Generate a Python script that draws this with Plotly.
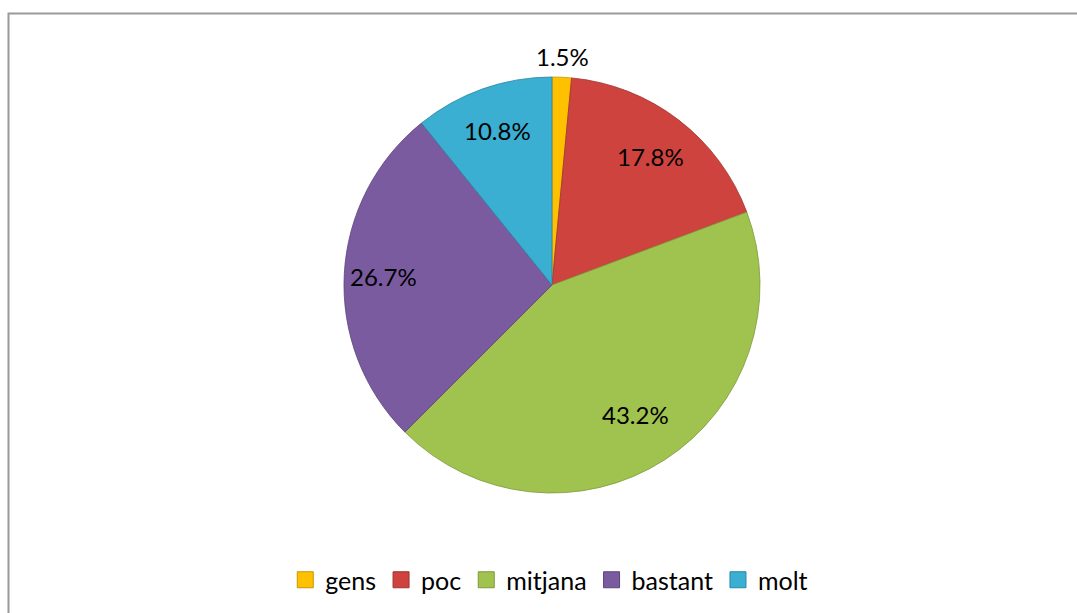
import math
import plotly.graph_objects as go

# Survey answers and their shares (%)
categories = ["gens", "poc", "mitjana", "bastant", "molt"]
shares = [1.5, 17.8, 43.2, 26.7, 10.8]

slice_colors = ["#FFC000", "#CF433F", "#A0C24F", "#7B5BA0", "#3AAFD2"]
edge_colors = ["#C89600", "#9E3330", "#7C9A3A", "#5C4379", "#2A86A2"]
# radial distance of each value label, as a fraction of the pie radius
label_radius = [1.1, 0.78, 0.74, 0.81, 0.79]

W, H = 1077, 613
cx, cy, r = 552, 285, 208

fig = go.Figure()
fig.add_trace(
    go.Pie(
        labels=categories,
        values=shares,
        sort=False,
        direction="clockwise",
        rotation=0,
        marker=dict(colors=slice_colors, line=dict(color=edge_colors, width=0.8)),
        textinfo="none",
        hoverinfo="label+percent",
        showlegend=False,
        domain=dict(
            x=[(cx - r) / W, (cx + r) / W],
            y=[(H - cy - r) / H, (H - cy + r) / H],
        ),
    )
)

# Value labels placed along each slice's bisector
total = sum(shares)
cum = 0.0
for val, rho in zip(shares, label_radius):
    theta = 2 * math.pi * (cum + val / 2) / total
    cum += val
    px = cx + rho * r * math.sin(theta)
    py = cy - rho * r * math.cos(theta)
    fig.add_annotation(
        x=px / W, y=1 - py / H, xref="paper", yref="paper",
        text=f"{val:.1f}%", showarrow=False,
        xanchor="center", yanchor="middle",
        font=dict(family="Lato", size=24, color="#000000"),
    )

# Legend entries with square swatches
for name, col, edge in zip(categories, slice_colors, edge_colors):
    fig.add_trace(
        go.Scatter(
            x=[None], y=[None], mode="markers", name=name,
            marker=dict(symbol="square", size=16, color=col, line=dict(color=edge, width=1)),
            hoverinfo="skip",
        )
    )

# Outer chart frame
fig.add_shape(
    type="rect", xref="paper", yref="paper",
    x0=8.5 / W, x1=1.02, y0=-0.02, y1=1 - 13.5 / H,
    line=dict(color="#9A9A9A", width=2), fillcolor="rgba(0,0,0,0)",
)

fig.update_layout(
    width=W, height=H,
    margin=dict(l=0, r=0, t=0, b=0),
    paper_bgcolor="#FFFFFF",
    plot_bgcolor="#FFFFFF",
    font=dict(family="Lato", size=24, color="#000000"),
    xaxis=dict(visible=False),
    yaxis=dict(visible=False),
    showlegend=True,
    legend=dict(
        orientation="h", x=0.51, xanchor="center",
        y=(H - 580) / H, yanchor="middle",
        font=dict(family="Lato", size=25, color="#000000"),
        itemsizing="trace",
        tracegroupgap=0,
    ),
)

fig.write_html("out.html")
